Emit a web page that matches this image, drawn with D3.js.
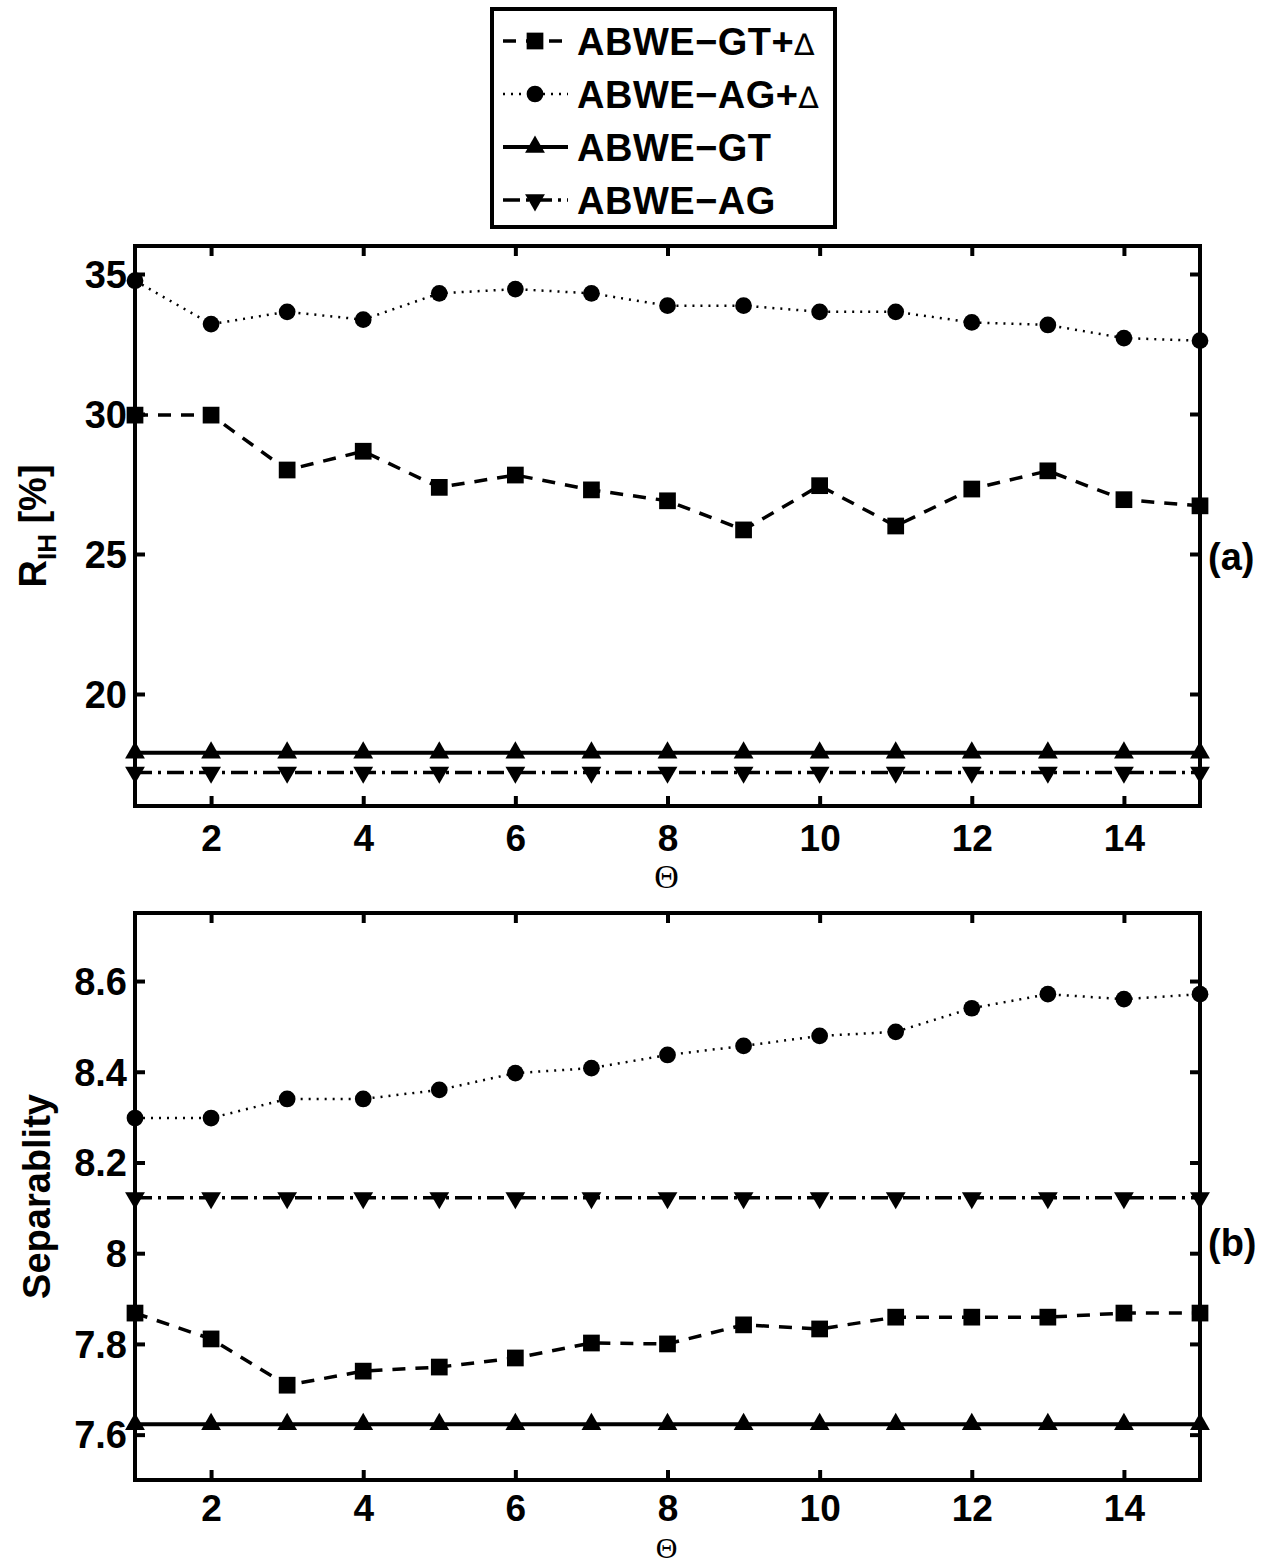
<!DOCTYPE html>
<html>
<head>
<meta charset="utf-8">
<script src="https://cdn.jsdelivr.net/npm/d3@7"></script>
<style>
  body { margin: 0; background: #fff; }
  svg { display: block; }
  text { font-family: "Liberation Sans", Arial, sans-serif; fill: #000; }
</style>
</head>
<body>
<div id="chart"></div>
<script>
// Data
var theta = [1, 2, 3, 4, 5, 6, 7, 8, 9, 10, 11, 12, 13, 14, 15];
var seriesNames = ["ABWE\u2212GT+", "ABWE\u2212AG+", "ABWE\u2212GT", "ABWE\u2212AG"];
var seriesDelta = [true, true, false, false];

// (a) R_IH [%]
var rihGTd = [29.96, 29.96, 28.0, 28.67, 27.38, 27.82, 27.29, 26.9, 25.86, 27.44, 26.0, 27.32, 27.97, 26.94, 26.72];
var rihAGd = [34.76, 33.21, 33.65, 33.37, 34.31, 34.46, 34.31, 33.87, 33.87, 33.65, 33.65, 33.27, 33.18, 32.71, 32.62];
var rihGT = [17.9, 17.9, 17.9, 17.9, 17.9, 17.9, 17.9, 17.9, 17.9, 17.9, 17.9, 17.9, 17.9, 17.9, 17.9];
var rihAG = [17.2, 17.2, 17.2, 17.2, 17.2, 17.2, 17.2, 17.2, 17.2, 17.2, 17.2, 17.2, 17.2, 17.2, 17.2];

// (b) Separability
var sepGTd = [7.868, 7.811, 7.709, 7.74, 7.749, 7.769, 7.802, 7.80, 7.842, 7.833, 7.859, 7.859, 7.859, 7.868, 7.868];
var sepAGd = [8.298, 8.298, 8.34, 8.34, 8.36, 8.397, 8.408, 8.437, 8.457, 8.479, 8.488, 8.54, 8.571, 8.56, 8.571];
var sepGT = [7.623, 7.623, 7.623, 7.623, 7.623, 7.623, 7.623, 7.623, 7.623, 7.623, 7.623, 7.623, 7.623, 7.623, 7.623];
var sepAG = [8.122, 8.122, 8.122, 8.122, 8.122, 8.122, 8.122, 8.122, 8.122, 8.122, 8.122, 8.122, 8.122, 8.122, 8.122];

var xTicks = [2, 4, 6, 8, 10, 12, 14];
var rihTicks = [20, 25, 30, 35];
var sepTicks = [7.6, 7.8, 8, 8.2, 8.4, 8.6];

var w = 1276, h = 1565;
var left = 135, right = 1200;

// line + marker styles for each series
var styles = [
  { dash: "13,10", width: 3.5, marker: d3.symbolSquare, size: 280, rot: 0 },
  { dash: "2,6", width: 2.5, marker: d3.symbolCircle, size: 220, rot: 0 },
  { dash: null, width: 4, marker: d3.symbolTriangle, size: 170, rot: 0 },
  { dash: "17,6,3,6", width: 3.5, marker: d3.symbolTriangle, size: 170, rot: 180 }
];

var svg = d3.select("#chart")
  .append("svg")
  .attr("width", w)
  .attr("height", h);

var xScale = d3.scaleLinear().domain([1, 15]).range([left, right]);

function drawPanel(top, bottom, yDomain, yTicks, fmt, data, yLabel, tag, tagY, labY, thetaY, thetaSize) {
  var yScale = d3.scaleLinear().domain(yDomain).range([bottom, top]);
  var g = svg.append("g");

  // Axes, ticks pointing inward on all four sides
  var xb = g.append("g")
    .attr("transform", "translate(0," + bottom + ")")
    .call(d3.axisBottom(xScale).tickValues(xTicks).tickSize(-10).tickFormat(d3.format("d")));
  xb.selectAll("text")
    .attr("y", labY).attr("dy", 0)
    .style("font-size", "37px").style("font-weight", "bold");

  g.append("g")
    .attr("transform", "translate(0," + top + ")")
    .call(d3.axisTop(xScale).tickValues(xTicks).tickSize(-10).tickFormat(""));

  var yl = g.append("g")
    .attr("transform", "translate(" + left + ",0)")
    .call(d3.axisLeft(yScale).tickValues(yTicks).tickSize(-10).tickPadding(8).tickFormat(fmt));
  yl.selectAll("text")
    .attr("dy", "0.35em")
    .style("font-size", "38px").style("font-weight", "bold");

  g.append("g")
    .attr("transform", "translate(" + right + ",0)")
    .call(d3.axisRight(yScale).tickValues(yTicks).tickSize(-10).tickFormat(""));

  g.selectAll(".domain").remove();
  g.selectAll(".tick line").attr("stroke", "#000").attr("stroke-width", 4);

  // frame
  g.append("rect")
    .attr("x", left).attr("y", top)
    .attr("width", right - left).attr("height", bottom - top)
    .attr("fill", "none").attr("stroke", "#000").attr("stroke-width", 4);

  // series
  var line = d3.line()
    .x(function(d, i) { return xScale(theta[i]); })
    .y(function(d) { return yScale(d); });

  data.forEach(function(vals, k) {
    var s = styles[k];
    g.append("path")
      .datum(vals)
      .attr("d", line)
      .attr("fill", "none")
      .attr("stroke", "#000")
      .attr("stroke-width", s.width)
      .attr("stroke-dasharray", s.dash);

    g.selectAll(null)
      .data(vals)
      .enter()
      .append("path")
      .attr("d", d3.symbol().type(s.marker).size(s.size))
      .attr("transform", function(d, i) {
        return "translate(" + xScale(theta[i]) + "," + yScale(d) + ") rotate(" + s.rot + ")";
      })
      .attr("fill", "#000");
  });

  // Theta label
  g.append("text")
    .attr("x", (left + right) / 2 - 1)
    .attr("y", thetaY)
    .attr("text-anchor", "middle")
    .style("font-family", "'Liberation Serif', 'Times New Roman', serif")
    .style("font-weight", "normal")
    .style("font-size", thetaSize + "px")
    .text("\u0398");

  // panel tag
  g.append("text")
    .attr("x", 1208)
    .attr("y", tagY)
    .style("font-size", "38px")
    .style("font-weight", "bold")
    .text(tag);

  // y label
  var lab = g.append("text")
    .attr("transform", "translate(" + yLabel.x + "," + ((top + bottom) / 2) + ") rotate(-90)")
    .attr("text-anchor", "middle")
    .style("font-size", "38px")
    .style("font-weight", "bold");
  yLabel.parts.forEach(function(p) {
    var t = lab.append("tspan").text(p.text);
    if (p.sub) t.style("font-size", "26px").attr("dy", 10);
    if (p.after) t.attr("dy", -10);
  });
}

drawPanel(246, 806, [16, 36], rihTicks, d3.format("d"),
  [rihGTd, rihAGd, rihGT, rihAG],
  { x: 46, parts: [{ text: "R" }, { text: "IH", sub: true }, { text: " [%]", after: true }] },
  "(a)", 570, 45, 888, 34);

drawPanel(913, 1480, [7.5, 8.75], sepTicks, function(d) { return d === 8 ? "8" : d3.format(".1f")(d); },
  [sepGTd, sepAGd, sepGT, sepAG],
  { x: 50, parts: [{ text: "Separablity" }] },
  "(b)", 1256, 41, 1558, 30);

// Legend
var legend = svg.append("g");
legend.append("rect")
  .attr("x", 492).attr("y", 9)
  .attr("width", 343).attr("height", 218)
  .attr("fill", "#fff").attr("stroke", "#000").attr("stroke-width", 4);

var legendY = d3.scalePoint().domain(seriesNames).range([41, 200]);

seriesNames.forEach(function(name, k) {
  var s = styles[k];
  var yy = legendY(name);
  legend.append("line")
    .attr("x1", 503).attr("x2", 568)
    .attr("y1", yy).attr("y2", yy)
    .attr("stroke", "#000")
    .attr("stroke-width", s.width)
    .attr("stroke-dasharray", s.dash);
  legend.append("path")
    .attr("d", d3.symbol().type(s.marker).size(s.size))
    .attr("transform", "translate(535," + yy + ") rotate(" + s.rot + ")")
    .attr("fill", "#000");
  var t = legend.append("text")
    .attr("x", 577)
    .attr("y", yy + 14)
    .style("font-size", "38px")
    .style("font-weight", "bold")
    .style("letter-spacing", "0.5px")
    .text(name);
  if (seriesDelta[k]) {
    t.append("tspan")
      .style("font-family", "'DejaVu Sans', sans-serif")
      .style("font-weight", "normal")
      .style("font-size", "30px")
      .text("\u2206");
  }
});
</script>
</body>
</html>
